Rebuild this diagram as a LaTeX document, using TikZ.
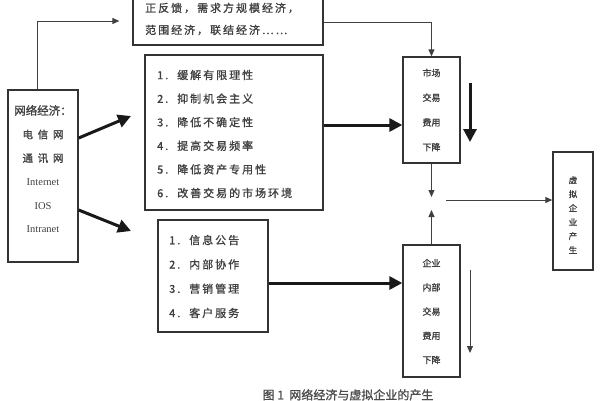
\documentclass[tikz,border=0pt]{standalone}
\usepackage{fontspec}
\newfontfamily\cjk{Noto Sans CJK SC}[FakeBold=1.2]
\newfontfamily\cjkw{Noto Sans CJK SC}[FakeBold=1.2, LetterSpace=18]
\setmainfont{Liberation Serif}
\usetikzlibrary{arrows.meta}
\tikzset{
  box/.style={draw=black!80, line width=1.3pt, rectangle, inner sep=0pt},
  txt/.style={text=black!75, align=left, inner sep=0pt},
  thickarrow/.style={line width=3pt, draw=black!90, -{Triangle[length=13pt,width=13pt]}},
  thinarrow/.style={line width=1pt, draw=black!75, -{Triangle[length=7pt,width=6pt]}},
  thinline/.style={line width=1pt, draw=black!75}
}
\begin{document}
\begin{tikzpicture}[x=1pt,y=-1pt]
\useasboundingbox (0,0) rectangle (600,400);
% boxes
\node[box, minimum width=190pt, minimum height=52pt] (T) at (228,19) {};
\node[box, minimum width=70pt, minimum height=172pt] (L) at (43,176) {};
\node[box, minimum width=178pt, minimum height=155pt] (B1) at (234,132.5) {};
\node[box, minimum width=110pt, minimum height=112pt] (B2) at (213,276) {};
\node[box, minimum width=57pt, minimum height=106pt] (M) at (431.5,110) {};
\node[box, minimum width=57pt, minimum height=132pt] (E) at (431.5,311) {};
\node[box, minimum width=40pt, minimum height=118pt] (V) at (573,211) {};
% texts
\node[txt, anchor=west, font={\cjkw\fontsize{11}{22}\selectfont}] (Tt) at (145,19) {正反馈，需求方规模经济，\\范围经济，联结经济……};
\node[txt, align=center, font={\fontsize{10.5}{23.6}\selectfont}] (Lt) at (43,169) {{\cjk\fontsize{11.5}{23.6}\selectfont 网络经济：}\\{\cjk 电\ \ 信\ \ 网}\\{\cjk 通\ \ 讯\ \ 网}\\Internet\\IOS\\Intranet};
\node[txt, anchor=west, font={\cjkw\fontsize{11}{23.6}\selectfont}] (B1t) at (157,134) {1.\ \ 缓解有限理性\\2.\ \ 抑制机会主义\\3.\ \ 降低不确定性\\4.\ \ 提高交易频率\\5.\ \ 降低资产专用性\\6.\ \ 改善交易的市场环境};
\node[txt, anchor=west, font={\cjkw\fontsize{11}{24.3}\selectfont}] (B2t) at (169,276.5) {1.\ \ 信息公告\\2.\ \ 内部协作\\3.\ \ 营销管理\\4.\ \ 客户服务};
\node[txt, align=center, font={\cjk\fontsize{9}{24.7}\selectfont}] (Mt) at (431.5,110) {市场\\交易\\费用\\下降};
\node[txt, align=center, font={\cjk\fontsize{9}{24.2}\selectfont}] (Et) at (431.5,311.5) {企业\\内部\\交易\\费用\\下降};
\node[txt, align=center, font={\cjk\fontsize{8.5}{14}\selectfont}] (Vt) at (573,215) {虚\\拟\\企\\业\\产\\生};
\node[txt, anchor=north, text=black!70, font={\cjk\fontsize{12}{14}\selectfont}] (cap) at (348,389) {图 1\ \ 网络经济与虚拟企业的产生};
% coordinates
\coordinate (a1) at (131,116);
\coordinate (a2) at (131,231);
\coordinate (J1) at (431.5,197);
\coordinate (J2) at (431.5,210);
\coordinate (h1) at (446,200);
\coordinate (d1s) at (470,83);
\coordinate (d1e) at (470,142);
\coordinate (d2s) at (470,270);
\coordinate (d2e) at (470,353);
% connectors
\draw[thinarrow, shorten >=13pt] ([xshift=-6pt]L.north) |- ([yshift=-2pt]T.west);
\draw[thinarrow] ([yshift=-3pt]T.east) -| (M.north);
\draw[thickarrow] ([yshift=38pt]L.east) -- (a1);
\draw[thickarrow] ([yshift=-34pt]L.east) -- (a2);
\draw[thickarrow] ([yshift=7.5pt]B1.east) -- ([yshift=-15pt]M.west);
\draw[thickarrow] ([yshift=-7pt]B2.east) -- ([yshift=28pt]E.west);
\draw[thinarrow] (M.south) -- (J1);
\draw[thinarrow] (E.north) -- (J2);
\draw[thinarrow] (h1) -- (h1 -| V.west);
\draw[thickarrow] (d1s) -- (d1e);
\draw[thinarrow] (d2s) -- (d2e);
\end{tikzpicture}
\end{document}
